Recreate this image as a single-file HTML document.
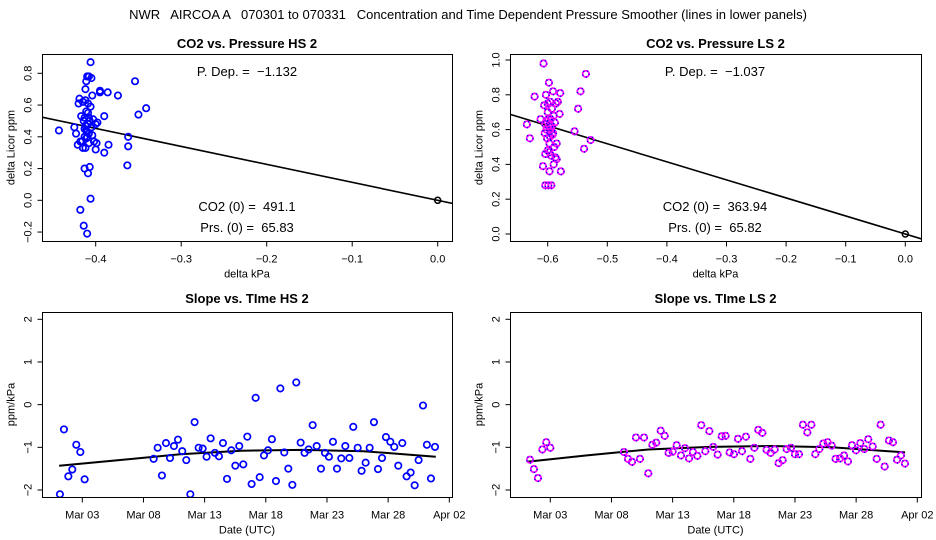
<!DOCTYPE html>
<html><head><meta charset="utf-8">
<style>
html,body{margin:0;padding:0;background:#fff;}
svg{display:block;font-family:"Liberation Sans",Arial,sans-serif;}
svg text{white-space:pre;}
</style></head>
<body>
<svg id="chart" width="936" height="540" viewBox="0 0 936 540" xmlns="http://www.w3.org/2000/svg">
<rect width="936" height="540" fill="#fff"/>
<text x="468" y="19" font-size="13" text-anchor="middle" xml:space="preserve">NWR   AIRCOA A   070301 to 070331   Concentration and Time Dependent Pressure Smoother (lines in lower panels)</text>
</svg>
<script>
// ---- data ----
const hsPressX = [-0.443,-0.425,-0.423,-0.421,-0.420,-0.419,-0.418,-0.417,-0.416,-0.415,-0.414,-0.413,-0.413,-0.412,-0.412,-0.411,-0.411,-0.410,-0.410,-0.410,-0.409,-0.409,-0.409,-0.408,-0.408,-0.408,-0.407,-0.407,-0.406,-0.406,-0.406,-0.405,-0.405,-0.404,-0.404,-0.403,-0.402,-0.400,-0.400,-0.399,-0.398,-0.395,-0.395,-0.390,-0.390,-0.386,-0.385,-0.374,-0.363,-0.362,-0.362,-0.354,-0.350,-0.341,-0.412,-0.413,-0.411,-0.410,-0.414,-0.409,-0.412,-0.408,-0.411,-0.413,-0.415,-0.418];
const hsPressY = [0.44,0.46,0.42,0.35,0.61,0.64,-0.06,0.53,0.37,0.33,-0.16,0.20,0.52,0.70,0.63,0.44,0.75,0.78,-0.21,0.40,0.48,0.55,0.17,0.42,0.36,0.78,0.21,0.50,0.01,0.87,0.59,0.77,0.46,0.66,0.41,0.51,0.37,0.32,0.48,0.36,0.49,0.69,0.68,0.53,0.30,0.68,0.35,0.66,0.22,0.40,0.34,0.75,0.54,0.58,0.47,0.45,0.39,0.43,0.50,0.61,0.33,0.52,0.56,0.40,0.62,0.37];
const hsSlope = -1.132;
const lsPressX = [-0.635,-0.630,-0.622,-0.612,-0.608,-0.607,-0.606,-0.605,-0.604,-0.604,-0.603,-0.602,-0.601,-0.600,-0.600,-0.599,-0.598,-0.598,-0.597,-0.597,-0.596,-0.595,-0.595,-0.594,-0.594,-0.593,-0.592,-0.591,-0.590,-0.590,-0.589,-0.588,-0.587,-0.586,-0.585,-0.585,-0.583,-0.580,-0.579,-0.578,-0.555,-0.549,-0.545,-0.539,-0.536,-0.528,-0.602,-0.599,-0.596,-0.593,-0.600,-0.597,-0.604,-0.591];
const lsPressY = [0.63,0.55,0.79,0.66,0.39,0.98,0.74,0.58,0.28,0.46,0.80,0.65,0.55,0.48,0.70,0.28,0.87,0.62,0.36,0.52,0.76,0.66,0.60,0.28,0.45,0.72,0.57,0.82,0.68,0.40,0.50,0.64,0.44,0.75,0.52,0.43,0.76,0.69,0.81,0.36,0.59,0.72,0.82,0.49,0.92,0.54,0.60,0.66,0.56,0.62,0.75,0.47,0.63,0.58];
const lsSlope = -1.037;
const hsDays = [0.17,0.50,0.86,1.18,1.51,1.84,2.19,7.83,8.16,8.51,8.84,9.17,9.49,9.82,10.17,10.50,10.83,11.18,11.51,11.84,12.16,12.49,12.84,13.17,13.50,13.83,14.18,14.51,14.83,15.16,15.49,15.84,16.17,16.50,16.85,17.18,17.50,17.83,18.19,18.51,18.84,19.17,19.49,19.85,20.17,20.50,20.83,21.16,21.51,21.84,22.16,22.49,22.82,23.17,23.50,23.83,24.15,24.51,24.83,25.16,25.49,25.84,26.17,26.50,26.82,27.18,27.50,27.83,28.16,28.51,28.84,29.17,29.49,29.85,30.17,30.50,30.83];
const hsSlopes = [-2.10,-0.58,-1.68,-1.52,-0.94,-1.11,-1.75,-1.27,-1.01,-1.66,-0.90,-1.25,-0.97,-0.82,-1.09,-1.30,-2.10,-0.41,-1.01,-1.03,-1.22,-0.79,-1.13,-1.21,-0.90,-1.74,-1.07,-1.43,-0.97,-1.40,-0.75,-1.86,0.16,-1.70,-1.19,-1.07,-0.81,-1.79,0.38,-1.12,-1.50,-1.88,0.52,-0.89,-1.13,-1.05,-0.48,-0.97,-1.50,-1.13,-1.22,-0.87,-1.50,-1.26,-0.97,-1.25,-0.52,-1.01,-1.55,-1.36,-1.01,-0.41,-1.51,-1.25,-0.76,-0.87,-0.99,-1.43,-0.90,-1.68,-1.59,-1.89,-1.30,-0.02,-0.94,-1.73,-0.99];
const hsSmoothDays = [0.1,5,10,15,20,25,30.9];
const hsSmoothVals = [-1.43,-1.30,-1.16,-1.08,-1.06,-1.09,-1.22];
const lsDays = [0.34,0.66,0.99,1.35,1.67,2.00,8.02,8.35,8.68,9.00,9.33,9.66,10.01,10.34,10.66,11.02,11.35,11.67,12.00,12.33,12.68,13.01,13.34,13.66,14.02,14.34,14.67,15.00,15.32,15.68,16.01,16.33,16.66,17.01,17.34,17.67,17.99,18.35,18.68,19.00,19.33,19.68,20.01,20.34,20.66,20.99,21.32,21.67,22.00,22.33,22.65,23.01,23.34,23.66,23.99,24.32,24.67,25.00,25.32,25.68,26.01,26.33,26.66,26.99,27.34,27.67,27.99,28.35,28.68,29.00,29.33,29.68,30.01,30.34,30.66,30.99];
const lsSlopes = [-1.29,-1.51,-1.72,-1.05,-0.88,-1.01,-1.11,-1.27,-1.34,-0.77,-1.27,-0.77,-1.61,-0.94,-0.89,-0.61,-0.73,-1.13,-1.10,-0.95,-1.19,-1.02,-1.26,-1.11,-1.20,-0.48,-1.09,-0.62,-0.99,-1.17,-0.74,-0.73,-1.12,-1.16,-0.80,-1.09,-0.75,-1.27,-1.01,-0.59,-0.66,-1.06,-1.13,-1.05,-1.37,-1.30,-1.04,-1.01,-1.16,-1.16,-0.47,-0.65,-0.47,-1.16,-1.04,-0.91,-0.88,-0.96,-1.27,-1.26,-1.19,-1.33,-0.95,-1.07,-0.90,-1.04,-0.81,-0.98,-1.27,-0.47,-1.45,-0.84,-0.88,-1.29,-1.19,-1.38];
const lsSmoothDays = [0.1,5,10,15,20,25,31];
const lsSmoothVals = [-1.34,-1.19,-1.05,-0.99,-0.97,-1.00,-1.12];
const dateTickDays = [2,7,12,17,22,27,32];
const dateTickLabels = ["Mar 03","Mar 08","Mar 13","Mar 18","Mar 23","Mar 28","Apr 02"];
const slopeTicks = [-2,-1,0,1,2];
const slopeTickLabels = ["\u22122","\u22121","0","1","2"];
const hsXTicks = [-0.4,-0.3,-0.2,-0.1,0.0];
const hsXTickLabels = ["\u22120.4","\u22120.3","\u22120.2","\u22120.1","0.0"];
const hsYTicks = [-0.2,0,0.2,0.4,0.6,0.8];
const hsYTickLabels = ["\u22120.2","0.0","0.2","0.4","0.6","0.8"];
const lsXTicks = [-0.6,-0.5,-0.4,-0.3,-0.2,-0.1,0.0];
const lsXTickLabels = ["\u22120.6","\u22120.5","\u22120.4","\u22120.3","\u22120.2","\u22120.1","0.0"];
const lsYTicks = [0,0.2,0.4,0.6,0.8,1.0];
const lsYTickLabels = ["0.0","0.2","0.4","0.6","0.8","1.0"];

const NS = "http://www.w3.org/2000/svg";
const svg = document.getElementById("chart");
function mk(tag, attrs, parent, text){
  const e = document.createElementNS(NS, tag);
  for (const k in attrs) e.setAttribute(k, attrs[k]);
  if (text !== undefined) e.textContent = text;
  (parent || svg).appendChild(e);
  return e;
}
function lin(d0,d1,r0,r1){ return v => r0 + (v-d0)*(r1-r0)/(d1-d0); }

function panel(o){
  const g = mk("g", {});
  
  
  const sx = lin(o.xd[0],o.xd[1],o.xr[0],o.xr[1]);
  const sy = lin(o.yd[0],o.yd[1],o.yr[0],o.yr[1]);
  const t = mk("text",{x:(o.box[0]+o.box[2])/2,y:o.titleY,"font-size":13,"font-weight":"bold","text-anchor":"middle"},g,o.title);
  
  
  const b = mk("rect",{x:o.box[0]+0.5,y:o.box[1]+0.5,width:o.box[2]-o.box[0],height:o.box[3]-o.box[1],fill:"none",stroke:"#000","stroke-width":1},g);
  
  
  const xa = mk("g",{},g);
  
  
  const xb = o.box[3]+0.5;
  mk("line",{x1:sx(o.xt[0]),x2:sx(o.xt[o.xt.length-1]),y1:xb,y2:xb,stroke:"#000"},xa);
  o.xt.forEach((v,i)=>{
    const X = sx(v);
    mk("line",{x1:X,x2:X,y1:xb,y2:xb+5,stroke:"#000"},xa);
    const l = mk("text",{x:X,y:xb+21,"font-size":11,"text-anchor":"middle"},xa,o.xl[i]);
    
    
  });
  const xt = mk("text",{x:(o.box[0]+o.box[2])/2,y:xb+36,"font-size":11,"text-anchor":"middle"},xa,o.xTitle);
  
  
  const ya = mk("g",{},g);
  
  
  const yb = o.box[0]+0.5;
  mk("line",{x1:yb,x2:yb,y1:sy(o.yt[0]),y2:sy(o.yt[o.yt.length-1]),stroke:"#000"},ya);
  o.yt.forEach((v,i)=>{
    const Y = sy(v);
    mk("line",{x1:yb-5,x2:yb,y1:Y,y2:Y,stroke:"#000"},ya);
    const lx = yb-11;
    const l = mk("text",{x:lx,y:Y,"font-size":11,"text-anchor":"middle",transform:`rotate(-90 ${lx} ${Y})`},ya,o.yl[i]);
    
    
  });
  const tx = yb-28, ty = (o.box[1]+o.box[3])/2;
  const yt = mk("text",{x:tx,y:ty,"font-size":11,"text-anchor":"middle",transform:`rotate(-90 ${tx} ${ty})`},ya,o.yTitle);
  
  
  const cid = "c"+o.name;
  const cp = mk("clipPath",{id:cid},g);
  mk("rect",{x:o.box[0],y:o.box[1],width:o.box[2]-o.box[0],height:o.box[3]-o.box[1]},cp);
  const pg = mk("g",{"clip-path":`url(#${cid})`},g);
  if (o.slope !== undefined){
    const x0=o.xd[0]-0.2, x1=o.xd[1]+0.2;
    const ln = mk("line",{x1:sx(x0),y1:sy(o.slope*x0),x2:sx(x1),y2:sy(o.slope*x1),stroke:"#000","stroke-width":1.6},pg);
    
    
    const z = mk("circle",{cx:sx(0),cy:sy(0),r:3,fill:"none",stroke:"#000","stroke-width":1.5},pg);
    
    
  }
  if (o.sx){
    const pts = o.sx.map((d,i)=>sx(d).toFixed(1)+","+sy(o.sv[i]).toFixed(1)).join(" ");
    const pl = mk("polyline",{points:pts,fill:"none",stroke:"#000","stroke-width":2},pg);
    
    
  }
  o.px.forEach((v,i)=>{
    const c = mk("circle",{cx:sx(v),cy:sy(o.py[i]),r:3.2,fill:"none",stroke:o.color,"stroke-width":1.7},pg);
    
    
    if (o.dither){
      mk("circle",{cx:sx(v),cy:sy(o.py[i]),r:3.2,fill:"none",stroke:"#0000ff","stroke-width":1.7,"stroke-dasharray":"1 3"},pg);
    }
  });
  if (o.notes){
    o.notes.forEach(n=>{
      const a = mk("text",{x:n[0],y:n[1],"font-size":13,"text-anchor":"middle"},g,n[2]);
      
      
    });
  }
}

panel({name:"panel-co2-pressure-hs", title:"CO2 vs. Pressure HS 2", titleY:48, box:[42,54,452,241],
  xd:[-0.4,0.0], xr:[95.7,437.7], yd:[0,0.8], yr:[200.3,73.3],
  xt:hsXTicks, xl:hsXTickLabels, yt:hsYTicks, yl:hsYTickLabels, xTitle:"delta kPa", yTitle:"delta Licor ppm",
  px:hsPressX, py:hsPressY, color:"#0000ff", slope:hsSlope,
  notes:[[247,76,"P. Dep. =  \u22121.132"],[247,211,"CO2 (0) =  491.1"],[247,232,"Prs. (0) =  65.83"]]});
panel({name:"panel-co2-pressure-ls", title:"CO2 vs. Pressure LS 2", titleY:48, box:[510,54,921,241],
  xd:[-0.6,0.0], xr:[547.7,905.3], yd:[0,1.0], yr:[234,60],
  xt:lsXTicks, xl:lsXTickLabels, yt:lsYTicks, yl:lsYTickLabels, xTitle:"delta kPa", yTitle:"delta Licor ppm",
  px:lsPressX, py:lsPressY, color:"#ff00ff", dither:true, slope:lsSlope,
  notes:[[715,76,"P. Dep. =  \u22121.037"],[715,211,"CO2 (0) =  363.94"],[715,232,"Prs. (0) =  65.82"]]});
panel({name:"panel-slope-time-hs", title:"Slope vs. TIme HS 2", titleY:303, box:[42,312,452,497],
  xd:[2,32], xr:[82.3,449.3], yd:[-2,2], yr:[490,319.3],
  xt:dateTickDays, xl:dateTickLabels, yt:slopeTicks, yl:slopeTickLabels, xTitle:"Date (UTC)", yTitle:"ppm/kPa",
  px:hsDays, py:hsSlopes, color:"#0000ff", sx:hsSmoothDays, sv:hsSmoothVals});
panel({name:"panel-slope-time-ls", title:"Slope vs. TIme LS 2", titleY:303, box:[510,312,921,497],
  xd:[2,32], xr:[550.3,917.3], yd:[-2,2], yr:[490,319.3],
  xt:dateTickDays, xl:dateTickLabels, yt:slopeTicks, yl:slopeTickLabels, xTitle:"Date (UTC)", yTitle:"ppm/kPa",
  px:lsDays, py:lsSlopes, color:"#ff00ff", dither:true, sx:lsSmoothDays, sv:lsSmoothVals});
</script>
</body></html>
